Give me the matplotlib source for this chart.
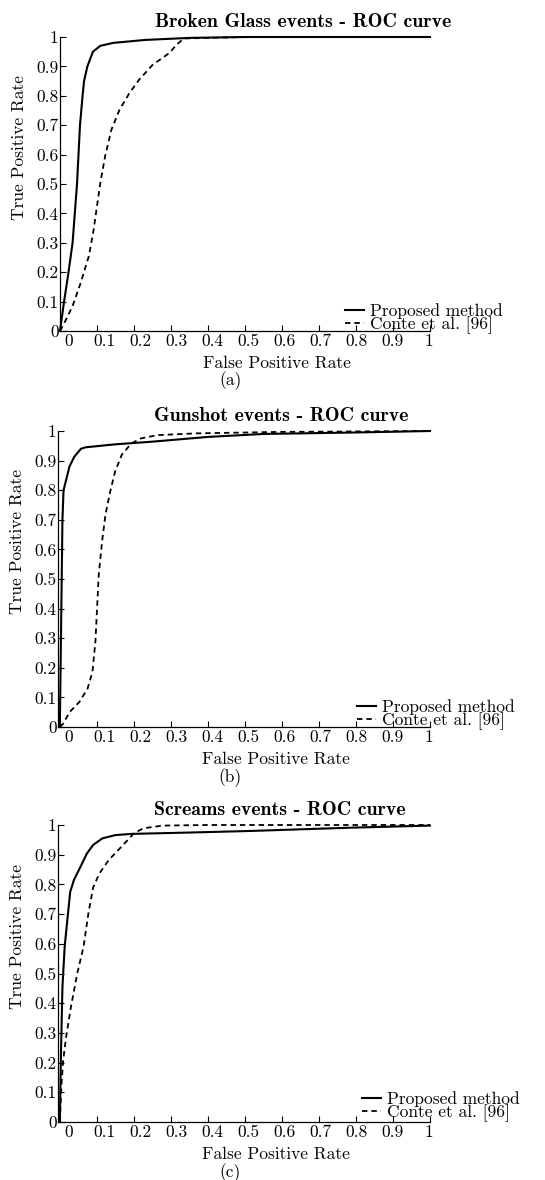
import numpy as np
import matplotlib
matplotlib.use("Agg")
import matplotlib.pyplot as plt
from matplotlib.transforms import ScaledTranslation

plt.rcParams["font.family"] = ["cmr10", "DejaVu Serif"]
plt.rcParams["axes.unicode_minus"] = False

# ROC curves
glass_fpr_prop = [0.0, 0.011, 0.023, 0.034, 0.040, 0.046, 0.050, 0.054, 0.061, 0.065, 0.074, 0.089, 0.109, 0.144, 0.23, 0.35, 0.5, 1.0]
glass_tpr_prop = [0.0, 0.10, 0.20, 0.30, 0.40, 0.50, 0.60, 0.70, 0.80, 0.85, 0.90, 0.95, 0.97, 0.98, 0.99, 0.997, 1.0, 1.0]
glass_fpr_conte = [0.0, 0.012, 0.034, 0.056, 0.078, 0.091, 0.100, 0.109, 0.122, 0.139, 0.161, 0.188, 0.214, 0.25, 0.295, 0.316, 0.335, 0.5, 1.0]
glass_tpr_conte = [0.0, 0.028, 0.085, 0.164, 0.255, 0.345, 0.425, 0.504, 0.595, 0.685, 0.753, 0.81, 0.855, 0.905, 0.945, 0.975, 0.995, 1.0, 1.0]

gun_fpr_prop = [0.0, 0.003, 0.007, 0.010, 0.018, 0.026, 0.039, 0.057, 0.07, 0.15, 0.25, 0.4, 0.55, 0.8, 1.0]
gun_tpr_prop = [0.0, 0.30, 0.70, 0.80, 0.84, 0.88, 0.913, 0.94, 0.945, 0.955, 0.964, 0.98, 0.99, 0.995, 1.0]
gun_fpr_conte = [0.0, 0.009, 0.026, 0.053, 0.075, 0.088, 0.096, 0.105, 0.114, 0.123, 0.136, 0.149, 0.167, 0.193, 0.219, 0.263, 0.368, 0.6, 1.0]
gun_tpr_conte = [0.0, 0.011, 0.05, 0.085, 0.13, 0.186, 0.287, 0.513, 0.626, 0.716, 0.795, 0.862, 0.919, 0.958, 0.975, 0.986, 0.992, 0.997, 1.0]

scream_fpr_prop = [0.0, 0.003, 0.007, 0.013, 0.021, 0.028, 0.038, 0.056, 0.073, 0.09, 0.115, 0.15, 0.192, 0.363, 0.517, 0.786, 1.0]
scream_tpr_prop = [0.0, 0.23, 0.455, 0.59, 0.69, 0.775, 0.815, 0.86, 0.904, 0.933, 0.955, 0.966, 0.97, 0.975, 0.98, 0.991, 0.998]
scream_fpr_conte = [0.0, 0.004, 0.009, 0.017, 0.03, 0.047, 0.064, 0.077, 0.09, 0.107, 0.132, 0.158, 0.184, 0.2, 0.226, 0.278, 0.4, 1.0]
scream_tpr_conte = [0.0, 0.118, 0.208, 0.287, 0.388, 0.5, 0.59, 0.702, 0.79, 0.837, 0.882, 0.916, 0.95, 0.972, 0.989, 0.998, 1.0, 1.0]

titles = ["Broken Glass events - ROC curve", "Gunshot events - ROC curve", "Screams events - ROC curve"]
tags = ["(a)", "(b)", "(c)"]
legend_labels = ["Proposed method", "Conte et al. [96]"]
ticks = [0, 0.1, 0.2, 0.3, 0.4, 0.5, 0.6, 0.7, 0.8, 0.9, 1]
tick_labels = ["0", "0.1", "0.2", "0.3", "0.4", "0.5", "0.6", "0.7", "0.8", "0.9", "1"]

curves = [
    (glass_fpr_prop, glass_tpr_prop, glass_fpr_conte, glass_tpr_conte),
    (gun_fpr_prop, gun_tpr_prop, gun_fpr_conte, gun_tpr_conte),
    (scream_fpr_prop, scream_tpr_prop, scream_fpr_conte, scream_tpr_conte),
]

# axes boxes in pixels: left, top, right, bottom
boxes = [(60, 37, 430, 331), (58, 431, 430, 727), (58, 825, 430, 1122)]
xmins = [0.0, -0.005, -0.005]
legend_anchor = [(0.77, -0.01), (0.804, -0.01), (0.817, 0.0)]

W, H = 545, 1180
fig = plt.figure(figsize=(W / 100, H / 100), dpi=100)
fs = 12.5

for i in range(3):
    l, t, r, b = boxes[i]
    ax = fig.add_axes([l / W, 1 - b / H, (r - l) / W, (b - t) / H])
    fp, tp, fc, tc = curves[i]
    ax.plot(fp, tp, "-", color="black", lw=1.5, clip_on=False, label=legend_labels[0])
    ax.plot(fc, tc, "--", color="black", lw=1.3, dashes=(3, 2.2), clip_on=False, label=legend_labels[1])
    ax.set_xlim(xmins[i], 1)
    ax.set_ylim(0, 1)
    for s in ["top", "right"]:
        ax.spines[s].set_visible(False)
    ax.spines["left"].set_linewidth(0.9)
    ax.spines["bottom"].set_linewidth(0.9)

    ax.set_xticks(ticks, tick_labels, fontsize=fs)
    ax.set_yticks(ticks, tick_labels, fontsize=fs)
    ax.tick_params(direction="in", length=4, width=0.8, pad=1)
    ax.tick_params(axis="x", pad=2)
    for lab, v in zip(ax.get_xticklabels(), ticks):
        dx = (8.5 - 9.5 * v) / 100
        lab.set_transform(lab.get_transform() + ScaledTranslation(dx, 0, fig.dpi_scale_trans))

    ax.set_xlabel("False Positive Rate", fontsize=fs, labelpad=0)
    ax.xaxis.set_label_coords(0.586, -0.083)
    ax.set_ylabel("True Positive Rate", fontsize=fs)
    ax.yaxis.set_label_coords(-0.088, 0.625)

    ax.text(0.257, 1.05, titles[i], transform=ax.transAxes, ha="left", va="center",
            fontsize=14.3, family="cmb10")
    ax.text(0.462, -0.17, tags[i], transform=ax.transAxes, ha="center", va="center", fontsize=fs)

    ax.legend(loc="lower left", bbox_to_anchor=legend_anchor[i], frameon=False, fontsize=fs,
              handlelength=1.1, handletextpad=0.35, labelspacing=-0.14, borderpad=0,
              borderaxespad=0)

fig.savefig("out.png", dpi=100)
